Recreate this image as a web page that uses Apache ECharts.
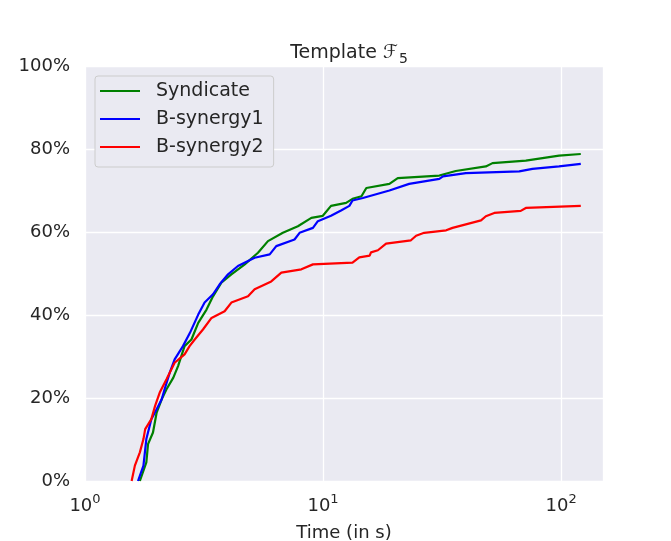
<!DOCTYPE html>
<html>
<head>
<meta charset="utf-8">
<script src="https://cdn.jsdelivr.net/npm/echarts@6/dist/echarts.min.js"></script>
<style>
  html, body { margin: 0; padding: 0; background: #fff; }
  #chart { width: 671px; height: 541px; }
</style>
</head>
<body>
<div id="chart"></div>
<script>
// time (s) and share of solved instances (%)
const synTime = [1.70, 1.81, 1.84, 1.93, 2.00, 2.10, 2.20, 2.35, 2.46, 2.62, 2.80, 2.99, 3.24, 3.45, 3.74, 4.12, 4.69, 5.33, 5.87, 6.78, 7.84, 8.93, 9.98, 10.8, 12.5, 13.3, 14.5, 15.2, 19.0, 20.6, 30.8, 36.1, 48.3, 51.5, 71.1, 98.1, 121]
const synPct = [0, 4.5, 8.9, 11.7, 16.5, 19.7, 22.1, 24.9, 27.7, 32.5, 34.1, 38.1, 41.3, 44.5, 47.8, 49.8, 52.2, 55.0, 57.8, 59.8, 61.4, 63.4, 63.9, 66.3, 67.0, 68.0, 68.6, 70.6, 71.6, 73.0, 73.6, 74.7, 75.8, 76.6, 77.2, 78.4, 78.8]

const bs1Time = [1.67, 1.76, 1.81, 1.90, 2.00, 2.10, 2.16, 2.27, 2.38, 2.58, 2.76, 2.99, 3.18, 3.45, 3.68, 3.99, 4.39, 5.16, 5.97, 6.36, 7.59, 7.97, 9.07, 9.51, 10.8, 11.9, 12.9, 13.3, 14.7, 19.0, 23.0, 30.8, 31.9, 39.8, 66.7, 75.8, 98, 121]
const bs1Pct = [0, 3.7, 10.1, 14.9, 17.3, 19.7, 22.1, 26.1, 29.3, 32.5, 35.7, 40.1, 43.0, 45.0, 47.4, 49.8, 51.8, 53.8, 54.6, 56.6, 58.2, 59.8, 61.0, 62.6, 63.9, 65.2, 66.3, 67.6, 68.2, 70.0, 71.6, 72.8, 73.4, 74.2, 74.6, 75.2, 75.8, 76.4]

const bs2Time = [1.57, 1.62, 1.70, 1.76, 1.79, 1.90, 1.97, 2.06, 2.20, 2.38, 2.62, 2.75, 2.89, 3.13, 3.40, 3.86, 4.12, 4.84, 5.16, 6.06, 6.68, 8.11, 9.07, 13.3, 14.2, 15.7, 15.9, 17.0, 18.4, 23.4, 24.6, 26.6, 32.9, 35.0, 46.1, 48.3, 52.4, 67.7, 71.1, 121]
const bs2Pct = [0, 3.7, 6.9, 10.1, 12.5, 14.9, 18.1, 21.3, 24.5, 28.5, 30.5, 32.5, 34.1, 36.5, 39.3, 40.9, 43.0, 44.5, 46.2, 48.1, 50.2, 51.0, 52.2, 52.6, 53.9, 54.3, 55.1, 55.6, 57.2, 58.0, 59.1, 59.8, 60.4, 61.0, 62.8, 63.8, 64.6, 65.1, 65.8, 66.3]

const seriesNames = ['Syndicate', 'B-synergy1', 'B-synergy2']
const seriesColors = ['#008000', '#0000ff', '#ff0000']

const FONT = 'DejaVu Sans'
const TEXT = '#262626'

function pairs(xs, ys) {
    return xs.map((x, i) => [x, ys[i]])
}

const chart = echarts.init(document.getElementById('chart'), null, { renderer: 'canvas' })

const option = {
    backgroundColor: '#ffffff',
    animation: false,
    textStyle: { fontFamily: FONT, color: TEXT },
    title: {
        text: '{a|Template \u2131}{s|5}',
        left: 344,
        textAlign: 'center',
        top: 39,
        textStyle: {
            fontFamily: FONT, fontSize: 19, fontWeight: 'normal', color: TEXT,
            rich: {
                a: { fontFamily: FONT, fontSize: 19, color: TEXT, lineHeight: 22, verticalAlign: 'top' },
                s: { fontFamily: FONT, fontSize: 14, color: TEXT, lineHeight: 22, verticalAlign: 'bottom', padding: [3, 0, 0, 1] }
            }
        }
    },
    grid: {
        left: 85, right: 68, top: 66, bottom: 60,
        outerBoundsMode: 'none',
        containLabel: false,
        show: true, backgroundColor: '#eaeaf2', borderWidth: 0
    },
    legend: {
        orient: 'vertical',
        left: 95, top: 76,
        padding: [5, 10, 10, 5],
        itemGap: 8,
        itemWidth: 40, itemHeight: 2,
        icon: 'rect',
        itemStyle: { borderWidth: 0 },
        borderColor: '#cccccc', borderWidth: 1, borderRadius: 3,
        backgroundColor: '#eaeaf2',
        textStyle: { fontFamily: FONT, fontSize: 19, color: TEXT, lineHeight: 20, padding: [0, 0, 0, 11] },
        data: seriesNames
    },
    xAxis: {
        type: 'log', logBase: 10, min: 1, max: 150,
        name: 'Time (in s)', nameLocation: 'middle', nameGap: 43,
        nameTextStyle: { fontFamily: FONT, fontSize: 18, color: TEXT },
        axisLine: { show: false }, axisTick: { show: false },
        splitLine: { show: true, lineStyle: { color: '#ffffff', width: 1.3 } },
        axisLabel: {
            margin: 12,
            showMaxLabel: false,
            formatter: v => '{b|10}{s|' + Math.round(Math.log10(v)) + '}',
            rich: {
                b: { fontFamily: FONT, fontSize: 18, color: TEXT, lineHeight: 22, verticalAlign: 'bottom' },
                s: { fontFamily: FONT, fontSize: 13, color: TEXT, lineHeight: 22, verticalAlign: 'top', padding: [0, 0, 8, 0] }
            }
        }
    },
    yAxis: {
        type: 'value', min: 0, max: 100, interval: 20,
        axisLine: { show: false }, axisTick: { show: false },
        splitLine: { show: true, lineStyle: { color: '#ffffff', width: 1.3 } },
        axisLabel: { formatter: '{value}%', margin: 15, fontFamily: FONT, fontSize: 18, color: TEXT }
    },
    series: [
        [synTime, synPct], [bs1Time, bs1Pct], [bs2Time, bs2Pct]
    ].map((d, i) => ({
        name: seriesNames[i],
        type: 'line',
        data: pairs(d[0], d[1]),
        showSymbol: false,
        color: seriesColors[i],
        lineStyle: { width: 2.2, color: seriesColors[i] }
    }))
}

chart.setOption(option)
</script>
</body>
</html>
